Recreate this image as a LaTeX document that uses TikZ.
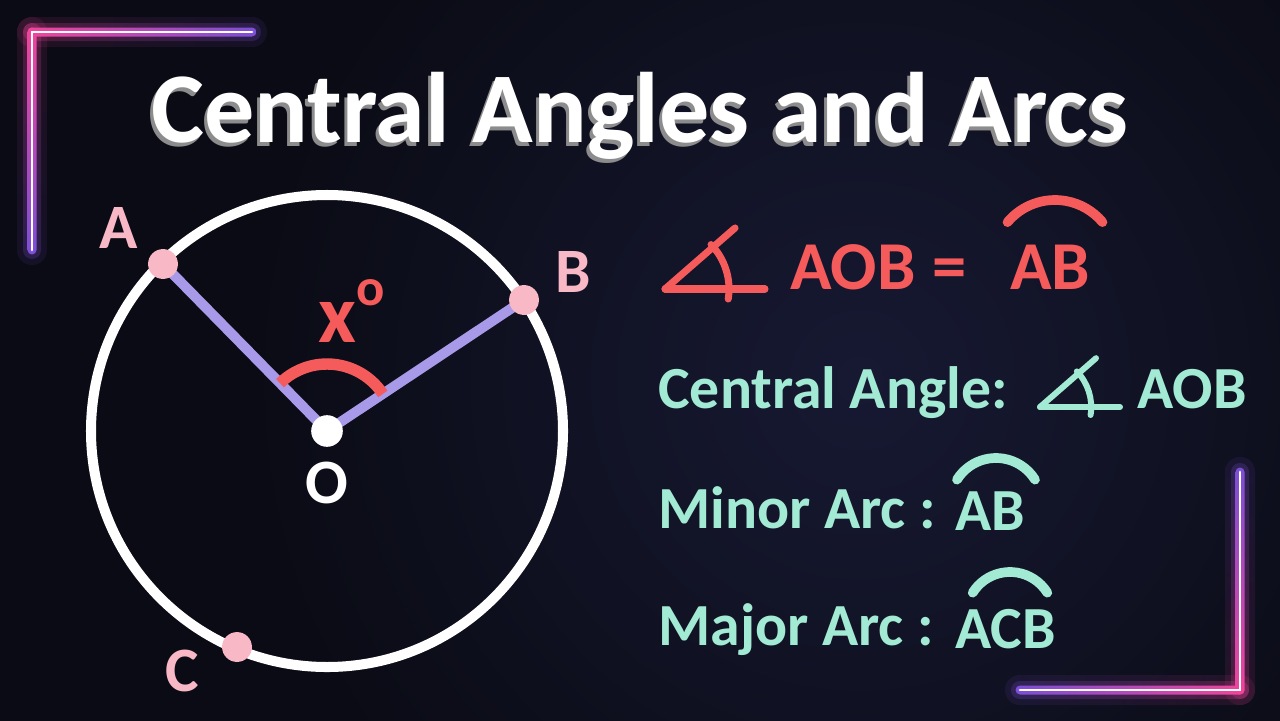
\documentclass[tikz,border=0pt]{standalone}
\usepackage{fontspec}
\setmainfont{Carlito}

\definecolor{bgdark}{HTML}{0A0B14}
\definecolor{bgglow}{HTML}{171933}
\definecolor{neonpink}{HTML}{F2449B}
\definecolor{neonpurple}{HTML}{7B4FD6}
\definecolor{arcred}{HTML}{F65B5B}
\definecolor{mint}{HTML}{A2EAD3}
\definecolor{lavender}{HTML}{A89AE8}
\definecolor{ptpink}{HTML}{F9B8C6}
\definecolor{shadowgray}{HTML}{8C8C8C}

\tikzset{
    ptdot/.style={circle, fill=ptpink, inner sep=0pt, minimum size=17pt},
    ptlabel/.style={text=ptpink, inner sep=0pt,
        font=\fontsize{36}{40}\selectfont\bfseries},
    radline/.style={lavender, line width=5.7pt},
    titletext/.style={anchor=base, inner sep=0pt,
        font=\fontsize{57}{62}\selectfont\bfseries},
    eqtext/.style={text=arcred, anchor=base west, inner sep=0pt,
        font=\fontsize{39}{44}\selectfont\bfseries},
    defntext/.style={text=mint, anchor=base west, inner sep=0pt,
        font=\fontsize{34}{38}\selectfont\bfseries},
    arcmark/.style={line width=5.5pt, line cap=round},
    angsym/.pic={
        \draw[line cap=round] (0,0) -- (100,0);
        \draw[line cap=round] (0,0) -- (70,-61);
        \draw[line cap=round] (0,0) ++(9:64) arc[start angle=9, end angle=-44, radius=64];
    }
}

\begin{document}
\begin{tikzpicture}[x=0.02cm, y=-0.02cm]

    %Hintergrund
    \useasboundingbox (0,0) rectangle (1280,720);
    \fill[bgdark] (-5,-5) rectangle (1285,725);
    \begin{scope}
        \clip (0,0) rectangle (1280,720);
        \shade[inner color=bgglow, outer color=bgdark] (860,380) circle (620);
    \end{scope}

    %Neon Ecken
    \foreach \w/\o in {15/.1, 9/.22, 4.5/1}{
        \shade[left color=neonpink, right color=neonpurple, opacity=\o,
            rounded corners={\w*0.56pt}] (32-\w,32-\w) rectangle (252+\w,32+\w);
        \shade[top color=neonpink, bottom color=neonpurple, opacity=\o,
            rounded corners={\w*0.56pt}] (32-\w,32-\w) rectangle (32+\w,250+\w);
        \shade[top color=neonpurple, bottom color=neonpink, opacity=\o,
            rounded corners={\w*0.56pt}] (1240-\w,472-\w) rectangle (1240+\w,690+\w);
        \shade[left color=neonpurple, right color=neonpink, opacity=\o,
            rounded corners={\w*0.56pt}] (1020-\w,690-\w) rectangle (1240+\w,690+\w);
    }
    \draw[white, line width=1.6pt, line cap=round] (252,32) -- (32,32) -- (32,250);
    \draw[white, line width=1.6pt, line cap=round] (1240,472) -- (1240,690) -- (1020,690);

    %Titel
    \node[titletext, text=shadowgray] (titleshadow) at (637,146) {Central Angles and Arcs};
    \node[titletext, text=white] (title) at (640,142) {Central Angles and Arcs};

    %Kreis
    \coordinate (O) at (327,431);
    \coordinate (A) at (163,264);
    \coordinate (B) at (524,300);
    \coordinate (C) at (237,647);
    \draw[white, line width=5.7pt] (O) circle[radius=236];

    %Radien
    \draw[radline] (A) -- (O);
    \draw[radline] (B) -- (O);

    %Winkel
    \draw[arcred, line width=6.5pt] (O) ++(-33.6:67)
        arc[start angle=-33.6, end angle=-134.5, radius=67];
    \node[text=arcred, anchor=base west, inner sep=0pt,
        font=\fontsize{47}{50}\selectfont\bfseries] (xdeg) at (318,342)
        {x\raisebox{21pt}{\fontsize{30}{30}\selectfont o}};

    %Punkte
    \node[ptdot] (dotA) at (A) {};
    \node[ptdot] (dotB) at (B) {};
    \node[ptdot] (dotC) at (C) {};
    \node[circle, fill=white, inner sep=0pt, minimum size=18pt] (dotO) at (O) {};
    \node[ptlabel] (labA) at (119,228) {A};
    \node[ptlabel] (labB) at (573,272) {B};
    \node[ptlabel] (labC) at (182,671) {C};
    \node[ptlabel, text=white] (labO) at (327,483) {O};

    %Gleichung
    \pic[draw=arcred, line width=4pt] at (665,289) {angsym};
    \node[eqtext] (eqAOB) at (790,289) {AOB};
    \node[eqtext, anchor=base] (eqsign) at (950,289) {=};
    \node[eqtext] (eqAB) at (1010,289) {AB};
    \draw[arcmark, arcred] (1055,262) ++(-140:62) arc[start angle=-140, end angle=-40, radius=62];

    %Begriffe
    \node[defntext] (central) at (658,408) {Central Angle:};
    \pic[draw=mint, line width=3.4pt, scale=0.8] at (1040,407) {angsym};
    \node[defntext] (centralAOB) at (1137,408) {AOB};

    \node[defntext] (minor) at (658,528) {Minor Arc :};
    \node[defntext] (minorAB) at (955,530) {AB};
    \draw[arcmark, mint] (996,504) ++(-148:46) arc[start angle=-148, end angle=-32, radius=46];

    \node[defntext] (major) at (658,645) {Major Arc :};
    \node[defntext] (majorACB) at (955,648) {ACB};
    \draw[arcmark, mint] (1010,616) ++(-148:44) arc[start angle=-148, end angle=-32, radius=44];

\end{tikzpicture}
\end{document}
